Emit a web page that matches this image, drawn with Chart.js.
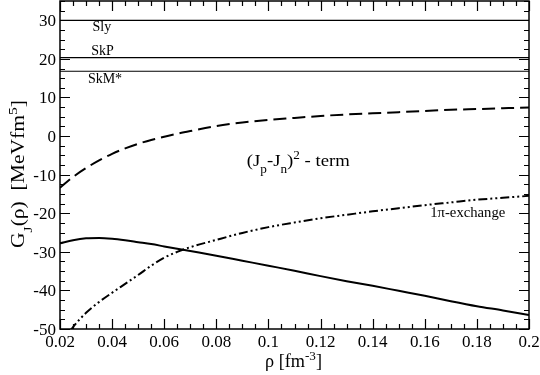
<!DOCTYPE html>
<html><head><meta charset="utf-8">
<script src="https://cdn.jsdelivr.net/npm/chart.js@4"></script>
<style>html,body{margin:0;padding:0;background:#fff}</style>
</head><body>
<canvas id="c" width="540" height="375"></canvas>
<script>
// ---- data ----
const rho = [0.02,0.025,0.03,0.035,0.04,0.045,0.05,0.055,0.06,0.065,0.07,0.08,0.09,0.1,0.11,0.12,0.13,0.14,0.15,0.16,0.17,0.18,0.19,0.2];
const gTotal = [-27.8,-27.0,-26.5,-26.4,-26.6,-27.0,-27.5,-28.0,-28.6,-29.2,-29.8,-31.0,-32.3,-33.6,-34.9,-36.3,-37.6,-38.8,-40.1,-41.4,-42.8,-44.1,-45.2,-46.4];
const gJpJn = [-13.4,-10.6,-8.3,-6.3,-4.6,-3.2,-2.0,-1.0,-0.2,0.6,1.3,2.6,3.5,4.2,4.7,5.2,5.6,5.9,6.2,6.5,6.8,7.0,7.2,7.4];
const rhoPion = [0.024,0.025,0.03,0.035,0.04,0.045,0.05,0.055,0.06,0.065,0.07,0.08,0.09,0.1,0.11,0.12,0.13,0.14,0.15,0.16,0.17,0.18,0.19,0.2];
const gPion = [-50.4,-49.5,-45.8,-43.0,-40.6,-38.3,-36.0,-33.6,-31.5,-30.0,-28.8,-26.9,-25.1,-23.6,-22.4,-21.3,-20.4,-19.5,-18.7,-17.9,-17.2,-16.5,-16.0,-15.5];
const skyrmeNames = ['Sly','SkP','SkM*'];
const skyrmeValues = [30, 20.3, 16.8];
const xTicks = [0.02,0.04,0.06,0.08,0.1,0.12,0.14,0.16,0.18,0.2];
const xTickLabels = ['0.02','0.04','0.06','0.08','0.1','0.12','0.14','0.16','0.18','0.2'];
const yTicks = [-50,-40,-30,-20,-10,0,10,20,30];
const yTickLabels = ['-50','-40','-30','-20','-10','0','10','20','30'];
const xRange = [0.02, 0.2];
const yRange = [-50, 35];

const SERIF = "'Liberation Serif', 'Times New Roman', Times, serif";
Chart.defaults.font.family = SERIF;
Chart.defaults.color = '#000';
const pts = (xs, ys) => xs.map((v,i)=>({x:v,y:ys[i]}));

const datasets = [];
skyrmeValues.forEach((v,i)=>{
  datasets.push({label:skyrmeNames[i], data:[{x:xRange[0],y:v},{x:xRange[1],y:v}], borderColor:'#000', borderWidth:1.2, pointRadius:0});
});
datasets.push({label:'total', data:pts(rho,gTotal), borderColor:'#000', borderWidth:2, pointRadius:0, cubicInterpolationMode:'monotone'});
datasets.push({label:'(Jp-Jn)^2 - term', data:pts(rho,gJpJn), borderColor:'#000', borderWidth:2, borderDash:[13,6], pointRadius:0, cubicInterpolationMode:'monotone'});
datasets.push({label:'1π-exchange', data:pts(rhoPion,gPion), borderColor:'#000', borderWidth:2, borderDash:[9,3,2,3,2,3], pointRadius:0, cubicInterpolationMode:'monotone'});

function partFont(p, size){ return (p.k? Math.round(size*0.7): size)+'px '+SERIF; }
function richWidth(ctx, parts, size){
  let w=0;
  parts.forEach(p=>{ ctx.font = partFont(p,size); w += ctx.measureText(p.t).width; });
  return w;
}
// draws rich text starting at (x,y); if target given, stretch horizontally to that width
function drawRich(ctx, parts, x, y, size, target){
  const w = richWidth(ctx, parts, size);
  const sx = target ? target / w : 1;
  ctx.save();
  ctx.translate(x, y);
  ctx.scale(sx, 1);
  let cx = 0;
  parts.forEach(p=>{
    let dy = 0;
    if (p.k==='sub') dy = size*0.45;
    if (p.k==='sup') dy = -size*0.4;
    ctx.font = partFont(p,size);
    ctx.fillText(p.t, cx, dy);
    cx += ctx.measureText(p.t).width;
  });
  ctx.restore();
}

const decorations = {
  id:'decorations',
  afterDraw(chart){
    const {ctx, chartArea:a, scales:{x,y}} = chart;
    ctx.save();
    ctx.strokeStyle='#000'; ctx.fillStyle='#000';
    // inward ticks on all four sides
    ctx.lineWidth=1.2;
    ctx.beginPath();
    for (let i=0;i<=36;i++){
      const v = xRange[0] + i*0.005;
      const px = Math.round(x.getPixelForValue(v))+0.5;
      const L = (i%4===0)?10:5;
      ctx.moveTo(px,a.bottom); ctx.lineTo(px,a.bottom-L);
      ctx.moveTo(px,a.top); ctx.lineTo(px,a.top+L);
    }
    for (let i=0;i<=34;i++){
      const v = yRange[0] + i*2.5;
      const py = Math.round(y.getPixelForValue(v))+0.5;
      const L = (i%4===0)?10:5;
      ctx.moveTo(a.left,py); ctx.lineTo(a.left+L,py);
      ctx.moveTo(a.right,py); ctx.lineTo(a.right-L,py);
    }
    ctx.stroke();
    ctx.lineWidth=1.5;
    ctx.strokeRect(a.left, a.top, a.right-a.left, a.bottom-a.top);

    // tick labels, placed through the scales
    ctx.font = '17px '+SERIF;
    ctx.textBaseline='alphabetic';
    ctx.textAlign='center';
    x.ticks.forEach((t,i)=>{ ctx.fillText(xTickLabels[i], x.getPixelForValue(t.value), a.bottom+18); });
    ctx.textAlign='right';
    y.ticks.forEach((t,i)=>{ ctx.fillText(yTickLabels[i], a.left-4, y.getPixelForValue(t.value)+6); });

    // labels inside the plot
    ctx.textAlign='left';
    ctx.font = '14px '+SERIF;
    ctx.fillText(skyrmeNames[0], x.getPixelForValue(0.0325), y.getPixelForValue(27.1));
    ctx.fillText(skyrmeNames[1], x.getPixelForValue(0.032), y.getPixelForValue(21.0));
    ctx.fillText(skyrmeNames[2], x.getPixelForValue(0.0307), y.getPixelForValue(13.8));
    drawRich(ctx, [{t:'1π-exchange'}], x.getPixelForValue(0.1621), y.getPixelForValue(-20.9), 14, 75);
    drawRich(ctx, [{t:'(J'},{t:'p',k:'sub'},{t:'-J'},{t:'n',k:'sub'},{t:')'},{t:'2',k:'sup'},{t:' - term'}],
      x.getPixelForValue(0.0917), y.getPixelForValue(-7.7), 17, 103);

    // axis titles
    const xParts = [{t:'ρ [fm'},{t:'-3',k:'sup'},{t:']'}];
    drawRich(ctx, xParts, 265, 367, 18, 57);
    const yParts = [{t:'G'},{t:'J',k:'sub'},{t:'(ρ)  [MeVfm'},{t:'5',k:'sup'},{t:']'}];
    ctx.translate(24, 248);
    ctx.rotate(-Math.PI/2);
    drawRich(ctx, yParts, 0, 0, 18, 148);
    ctx.restore();
  }
};

new Chart(document.getElementById('c'), {
  type:'line',
  data:{datasets},
  options:{
    responsive:false, animation:false, devicePixelRatio:1,
    layout:{padding:{top:1,right:11,left:0,bottom:0}},
    plugins:{legend:{display:false}, tooltip:{enabled:false}},
    scales:{
      x:{type:'linear', min:xRange[0], max:xRange[1],
         grid:{display:false, drawTicks:false}, border:{display:false},
         afterBuildTicks:s=>{s.ticks = xTicks.map(v=>({value:v}));},
         afterFit:s=>{s.height=46;},
         ticks:{display:false, autoSkip:false}},
      y:{type:'linear', min:yRange[0], max:yRange[1],
         grid:{display:false, drawTicks:false}, border:{display:false},
         afterBuildTicks:s=>{s.ticks = yTicks.map(v=>({value:v}));},
         afterFit:s=>{s.width=60;},
         ticks:{display:false, autoSkip:false}}
    }
  },
  plugins:[decorations]
});
</script>
</body></html>
